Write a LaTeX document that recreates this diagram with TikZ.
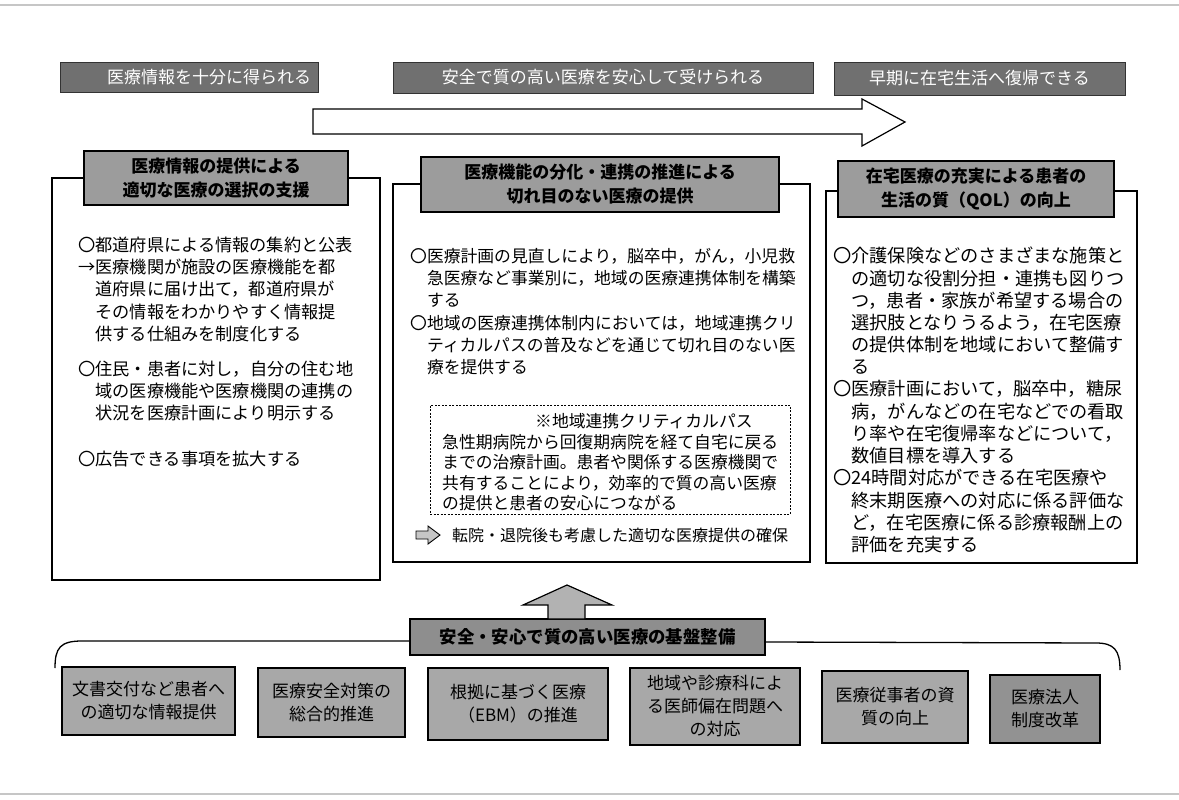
\documentclass[tikz,border=0pt]{standalone}
\usepackage{fontspec}
\setmainfont{Noto Sans CJK JP}
\definecolor{bannerfill}{HTML}{707070}
\definecolor{headfill}{HTML}{9C9C9C}
\definecolor{basefill}{HTML}{8E8E8E}
\definecolor{boxfill}{HTML}{A8A8A8}
\definecolor{boxdark}{HTML}{929292}
\newcommand\fsz[2]{\fontsize{#1}{#2}\selectfont}
\begin{document}
\begin{tikzpicture}[x=1pt,y=-1pt,
  banner/.style={draw=black!80, line width=0.8pt, fill=bannerfill, text=white, font=\fsz{17}{20}, inner sep=0pt},
  headbox/.style={draw=black, line width=1.2pt, fill=headfill, font=\fsz{17}{24}\bfseries, align=center, inner sep=0pt},
  panel/.style={draw=black, line width=1.2pt, fill=white, inner sep=0pt},
  body/.style={anchor=base west, align=left, inner sep=0pt},
  basebox/.style={draw=black, line width=1.2pt, fill=boxfill, font=\fsz{17}{23}, align=center, inner sep=0pt},
  blockarrow/.style={draw=black, line width=1.2pt},
]
\useasboundingbox (0,0) rectangle (1179,800);
% scan edges
\draw[gray!45, line width=1.5pt] (0,5) -- (1179,5);
\draw[gray!45, line width=1.5pt] (0,794) -- (1179,794);

% top banners
\node[banner, minimum width=258pt, minimum height=30pt] (b1) at (189,77) {\hspace*{40pt}医療情報を十分に得られる};
\node[banner, minimum width=420pt, minimum height=31pt] (b2) at (603,77.5) {安全で質の高い医療を安心して受けられる};
\node[banner, minimum width=291pt, minimum height=33pt] (b3) at (979.5,78.5) {早期に在宅生活へ復帰できる};

% big arrow
\draw[blockarrow, fill=white] (313,109) -- (862,109) -- (862,99) -- (905,122) -- (862,146) -- (862,134) -- (313,134) -- cycle;

% panels
\node[panel, minimum width=328pt, minimum height=402pt] (pl) at (216,379) {};
\node[headbox, minimum width=264pt, minimum height=54pt] (hl) at (216,178) {医療情報の提供による\\適切な医療の選択の支援};
\node[panel, minimum width=417pt, minimum height=378pt] (pm) at (601.5,373) {};
\node[headbox, minimum width=358pt, minimum height=55pt] (hm) at (600,184.5) {医療機能の分化・連携の推進による\\切れ目のない医療の提供};
\node[panel, minimum width=311pt, minimum height=372pt] (pr) at (981.5,377) {};
\node[headbox, minimum width=276pt, minimum height=56pt] (hr) at (976,189) {在宅医療の充実による患者の\\生活の質（QOL）の向上};

% left text (anchor = baseline of last line)
\node[body, font=\fsz{17.2}{22.2}] (l1) at (78,340.3) {〇都道府県による情報の集約と公表\\→医療機関が施設の医療機能を都\\　道府県に届け出て，都道府県が\\　その情報をわかりやすく情報提\\　供する仕組みを制度化する};
\node[body, font=\fsz{17.2}{22.2}] (l2) at (78,419.9) {〇住民・患者に対し，自分の住む地\\　域の医療機能や医療機関の連携の\\　状況を医療計画により明示する};
\node[body, font=\fsz{17.2}{22.2}] (l3) at (78,465.5) {〇広告できる事項を拡大する};

% middle text
\node[body, font=\fsz{16.8}{22.2}] (m1) at (410,306.9) {〇医療計画の見直しにより，脳卒中，がん，小児救\\　急医療など事業別に，地域の医療連携体制を構築\\　する};
\node[body, font=\fsz{16.8}{22.2}] (m2) at (410,373.9) {〇地域の医療連携体制内においては，地域連携クリ\\　ティカルパスの普及などを通じて切れ目のない医\\　療を提供する};
\node[draw=black, line width=1pt, dash pattern=on 2pt off 1.5pt, minimum width=360pt, minimum height=109pt, inner sep=0pt] (dash) at (610,459.5) {};
\node[body, font=\fsz{16.8}{20.5}] (cp) at (535,427.4) {※地域連携クリティカルパス};
\node[body, font=\fsz{16.8}{20.5}] (cpt) at (442,509.9) {急性期病院から回復期病院を経て自宅に戻る\\までの治療計画。患者や関係する医療機関で\\共有することにより，効率的で質の高い医療\\の提供と患者の安心につながる};
\draw[line width=0.9pt, fill=gray!45] (416,531) -- (428,531) -- (428,526) -- (440,535) -- (428,544) -- (428,539) -- (416,539) -- cycle;
\node[body, font=\fsz{16}{20}] (tr) at (452,541) {転院・退院後も考慮した適切な医療提供の確保};

% right text
\node[body, font=\fsz{18.2}{22.2}] (r1) at (833,373.9) {〇介護保険などのさまざまな施策と\\　の適切な役割分担・連携も図りつ\\　つ，患者・家族が希望する場合の\\　選択肢となりうるよう，在宅医療\\　の提供体制を地域において整備す\\　る};
\node[body, font=\fsz{18.2}{22.2}] (r2) at (833,462.5) {〇医療計画において，脳卒中，糖尿\\　病，がんなどの在宅などでの看取\\　り率や在宅復帰率などについて，\\　数値目標を導入する};
\node[body, font=\fsz{18.2}{22.2}] (r3) at (833,551.5) {〇24時間対応ができる在宅医療や\\　終末期医療への対応に係る評価な\\　ど，在宅医療に係る診療報酬上の\\　評価を充実する};

% base
\node[draw=black, line width=1.2pt, fill=basefill, font=\fsz{17.4}{20}\bfseries, minimum width=355pt, minimum height=36pt, inner sep=0pt] (base) at (587.5,637) {安全・安心で質の高い医療の基盤整備};
\draw[blockarrow, fill=gray!60] (548,619) -- (548,605) -- (523,605) -- (567,585) -- (612,605) -- (585,605) -- (585,619) -- cycle;
\draw[line width=1.3pt] (55,668) .. controls (55,648) and (60,641) .. (82,641) -- (base.west |- 0,641);
\draw[line width=1.3pt] (base.east |- 0,642) -- (1096,643) .. controls (1114,643) and (1120,650) .. (1120,670);

% bottom boxes
\node[basebox, minimum width=173pt, minimum height=68pt] (k1) at (148.5,701) {文書交付など患者へ\\の適切な情報提供};
\node[basebox, minimum width=147pt, minimum height=69pt] (k2) at (331.5,702.5) {医療安全対策の\\総合的推進};
\node[basebox, minimum width=180pt, minimum height=72pt] (k3) at (518,704) {根拠に基づく医療\\（EBM）の推進};
\node[basebox, minimum width=170pt, minimum height=77pt] (k4) at (715,706.5) {地域や診療科によ\\る医師偏在問題へ\\の対応};
\node[basebox, minimum width=146pt, minimum height=72pt] (k5) at (895,707) {医療従事者の資\\質の向上};
\node[basebox, fill=boxdark, minimum width=110pt, minimum height=68pt] (k6) at (1045,709) {医療法人\\制度改革};
\end{tikzpicture}
\end{document}
